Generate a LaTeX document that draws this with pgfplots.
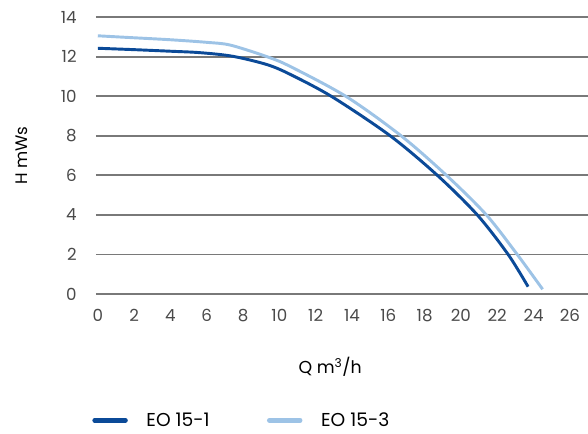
\documentclass[border=0pt]{standalone}
\usepackage{pgfplots}
\pgfplotsset{compat=1.18}
\usepackage{fontspec}
\setmainfont{Poppins}
\definecolor{dark}{HTML}{0B4A98}
\definecolor{light}{HTML}{9DC3E6}
\definecolor{lab}{HTML}{4A4A4A}
\begin{document}
\begin{tikzpicture}
\useasboundingbox (-72pt,-104.25pt) rectangle (369pt,220.5pt);
\begin{axis}[
  at={(0pt,0pt)}, anchor=south west,
  scale only axis, width=369pt, height=207.75pt,
  xmin=-0.1, xmax=27, ymin=0, ymax=14,
  xtick={0,2,...,26},
  ytick={0,4,8,12},
  extra y ticks={2,6,10,14},
  extra y tick style={grid style={black, line width=0.9pt}},
  grid=none, ymajorgrids=true,
  major grid style={color=gray!95!black, line width=1.4pt},
  axis line style={draw=none},
  tick style={draw=none},
  /pgf/number format/assume math mode=true,
  font=\fontsize{12.5}{15}\selectfont,
  tick label style={color=lab},
  yticklabel style={xshift=-11pt},
  xticklabel style={yshift=-8pt},
  xlabel={Q m\textsuperscript{3}/h},
  ylabel={H mWs},
  xlabel style={at={(axis description cs:0.476,-0.2635)}, anchor=center, font=\fontsize{13}{15}\selectfont},
  ylabel style={at={(axis description cs:-0.150,0.5)}, anchor=center},
  legend columns=2,
  legend style={draw=none, fill=none, inner sep=0pt, at={(axis description cs:-0.008,-0.456)}, anchor=west,
    font=\fontsize{14}{16}\selectfont,
    /tikz/every odd column/.append style={column sep=12pt},
    /tikz/every even column/.append style={column sep=41pt}},
  legend cell align=left,
  legend image code/.code={\draw[#1, line width=3.6pt, line cap=round] (1.5pt,0pt) -- (24.5pt,0pt);},
]
\addplot[dark, line width=2.2pt, smooth, tension=0.5] coordinates {
(0,12.42) (2,12.35) (4,12.27) (5.6,12.2) (7.4,12.02) (9.3,11.6) (10.6,11.1)
(12.9,9.97) (16.1,8.0) (18.7,6.0) (20.9,4.0) (22.6,2.0) (23.7,0.37)};
\addlegendentry{EO 15-1}
\addplot[light, line width=2.2pt, smooth, tension=0.5] coordinates {
(0,13.05) (2,12.95) (4,12.85) (6,12.72) (7.3,12.58) (9.3,12.0) (10.6,11.5)
(13.7,9.97) (16.7,8.0) (19.2,6.0) (21.4,4.0) (23.1,2.0) (24.5,0.24)};
\addlegendentry{EO 15-3}
\end{axis}
\end{tikzpicture}
\end{document}
